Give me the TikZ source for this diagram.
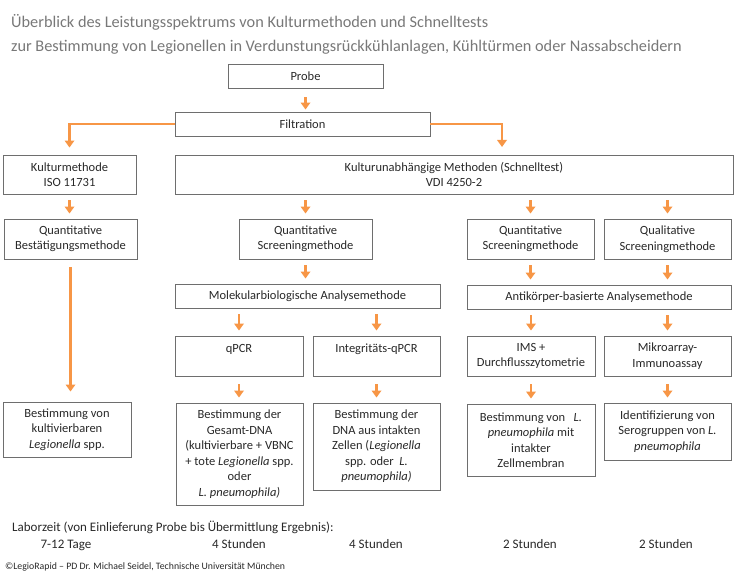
\documentclass[tikz,border=0pt]{standalone}
\usepackage{fontspec}
\setmainfont{Carlito}
\usetikzlibrary{arrows.meta}
\definecolor{pfeilorange}{RGB}{247,150,70}
\definecolor{rahmengrau}{RGB}{110,110,110}
\definecolor{titelgrau}{RGB}{120,120,120}
\definecolor{textgrau}{RGB}{40,40,40}

\begin{document}
\begin{tikzpicture}[x=1pt, y=-1pt,
    kasten/.style ={draw=rahmengrau, line width=0.9pt, align=center, inner sep=0pt,
                    text=textgrau, font=\fontsize{12.5}{15.5}\selectfont},
    pfeil/.style  ={draw=pfeilorange, line width=2.6pt, -{Triangle[width=9.5pt,length=7pt]},
                    shorten <=6pt, shorten >=5pt},
    titel/.style  ={anchor=west, inner sep=0pt, text=titelgrau, font=\fontsize{16.3}{20}\selectfont},
    zeit/.style   ={anchor=base, inner sep=0pt, text=textgrau, font=\fontsize{13}{15}\selectfont}]
   \useasboundingbox (0,0) rectangle (735,580);

   % Ueberschrift
   \node[titel] (titel1) at (11,22) {Überblick des Leistungsspektrums von Kulturmethoden und Schnelltests};
   \node[titel] (titel2) at (11,47) {zur Bestimmung von Legionellen in Verdunstungsrückkühlanlagen, Kühltürmen oder Nassabscheidern};

   % obere Ebene
   \node[kasten, minimum width=155pt, minimum height=24pt] (probe)      at (305.5,76)  {Probe};
   \node[kasten, minimum width=255pt, minimum height=24pt] (filtration) at (302.5,124) {Filtration};
   \node[kasten, minimum width=133pt, minimum height=39pt] (kultur)     at (69.5,174.5) {Kulturmethode\\ISO 11731};
   \node[kasten, minimum width=558pt, minimum height=39pt] (schnell)    at (454,174.5) {Kulturunabhängige Methoden (Schnelltest)\\VDI 4250-2};
   \coordinate (schnell-ein) at (502,155);

   % Screening
   \node[kasten, minimum width=133pt, minimum height=40pt] (bestaetigung) at (70.5,239)  {Quantitative\\Bestätigungsmethode};
   \node[kasten, minimum width=133pt, minimum height=40pt] (qscreenA)     at (305.5,239) {Quantitative\\Screeningmethode};
   \node[kasten, minimum width=127pt, minimum height=40pt] (qscreenB)     at (530.5,239) {Quantitative\\Screeningmethode};
   \node[kasten, minimum width=127pt, minimum height=40pt] (qlscreen)     at (667.5,239) {Qualitative\\Screeningmethode};

   % Analysemethoden
   \node[kasten, minimum width=265pt, minimum height=24pt] (molbio) at (307.5,296) {Molekularbiologische Analysemethode};
   \node[kasten, minimum width=264pt, minimum height=24pt] (antik)  at (599,297)   {Antikörper-basierte Analysemethode};
   \node[kasten, minimum width=128pt, minimum height=40pt] (qpcr)   at (239,356)   {qPCR\\~};
   \node[kasten, minimum width=127pt, minimum height=40pt] (integ)  at (376.5,356) {Integritäts-qPCR\\~};
   \node[kasten, minimum width=128pt, minimum height=40pt] (ims)    at (531,356)   {IMS +\\Durchflusszytometrie};
   \node[kasten, minimum width=127pt, minimum height=40pt] (mikro)  at (667.5,356) {Mikroarray-\\Immunoassay};

   % Ergebnisse
   \node[kasten, minimum width=128pt, minimum height=55pt]  (kultiv) at (67,429.5)  {Bestimmung von\\kultivierbaren\\\textit{Legionella} spp.};
   \node[kasten, minimum width=127pt, minimum height=102pt] (gesamt) at (239.5,454) {Bestimmung der\\Gesamt-DNA\\(kultivierbare + VBNC\\+ tote \textit{Legionella} spp.\\oder\\\textit{L. pneumophila)}};
   \node[kasten, minimum width=127pt, minimum height=87pt]  (intakt) at (376.5,446.5) {Bestimmung der\\DNA aus intakten\\Zellen (\textit{Legionella}\\spp. oder~ \textit{L.}\\\textit{pneumophila)}};
   \node[kasten, minimum width=128pt, minimum height=72pt]  (zellm)  at (531,440)   {Bestimmung von~~ \textit{L.}\\\textit{pneumophila} mit\\intakter\\Zellmembran};
   \node[kasten, minimum width=127pt, minimum height=57pt]  (sero)   at (667.5,431.5) {Identifizierung von\\Serogruppen von \textit{L.}\\\textit{pneumophila}};

   % Pfeile
   \draw[pfeil, shorten <=9pt, shorten >=2pt] (probe.south) -- (probe.south |- filtration.north);
   \draw[pfeil, shorten <=0pt, shorten >=7pt] (filtration.west) -| (kultur.north);
   \draw[pfeil, shorten <=0pt, shorten >=8pt] (filtration.east) -| (schnell-ein);
   \draw[pfeil] (kultur.south) -- (kultur.south |- bestaetigung.north);
   \draw[pfeil] (schnell.south -| qscreenA.north) -- (qscreenA.north);
   \draw[pfeil] (schnell.south -| qscreenB.north) -- (qscreenB.north);
   \draw[pfeil] (schnell.south -| qlscreen.north) -- (qlscreen.north);
   \draw[pfeil] (qscreenA.south) -- (qscreenA.south |- molbio.north);
   \draw[pfeil] (qscreenB.south) -- (qscreenB.south |- antik.north);
   \draw[pfeil] (qlscreen.south) -- (qlscreen.south |- antik.north);
   \draw[pfeil] (molbio.south -| qpcr.north) -- (qpcr.north);
   \draw[pfeil] (molbio.south -| integ.north) -- (integ.north);
   \draw[pfeil] (antik.south -| ims.north) -- (ims.north);
   \draw[pfeil] (antik.south -| mikro.north) -- (mikro.north);
   \draw[pfeil, shorten <=8pt, shorten >=10pt] (bestaetigung.south) -- (bestaetigung.south |- kultiv.north);
   \draw[pfeil, shorten <=8pt] (qpcr.south) -- (qpcr.south |- gesamt.north);
   \draw[pfeil, shorten <=8pt] (integ.south) -- (integ.south |- intakt.north);
   \draw[pfeil, shorten <=8pt] (ims.south) -- (ims.south |- zellm.north);
   \draw[pfeil, shorten <=8pt] (mikro.south) -- (mikro.south |- sero.north);

   % Laborzeit
   \node[zeit, anchor=base west] (laborzeit) at (12,531) {Laborzeit (von Einlieferung Probe bis Übermittlung Ergebnis):};
   \node[zeit] (zeitA) at (66,548)  {7-12 Tage};
   \node[zeit] (zeitB) at (239,548) {4 Stunden};
   \node[zeit] (zeitC) at (376,548) {4 Stunden};
   \node[zeit] (zeitD) at (530,548) {2 Stunden};
   \node[zeit] (zeitE) at (666,548) {2 Stunden};
   \node[zeit, anchor=base west, font=\fontsize{9.8}{11}\selectfont] (quelle) at (5,569) {©LegioRapid – PD Dr. Michael Seidel, Technische Universität München};
 \end{tikzpicture}
\end{document}
